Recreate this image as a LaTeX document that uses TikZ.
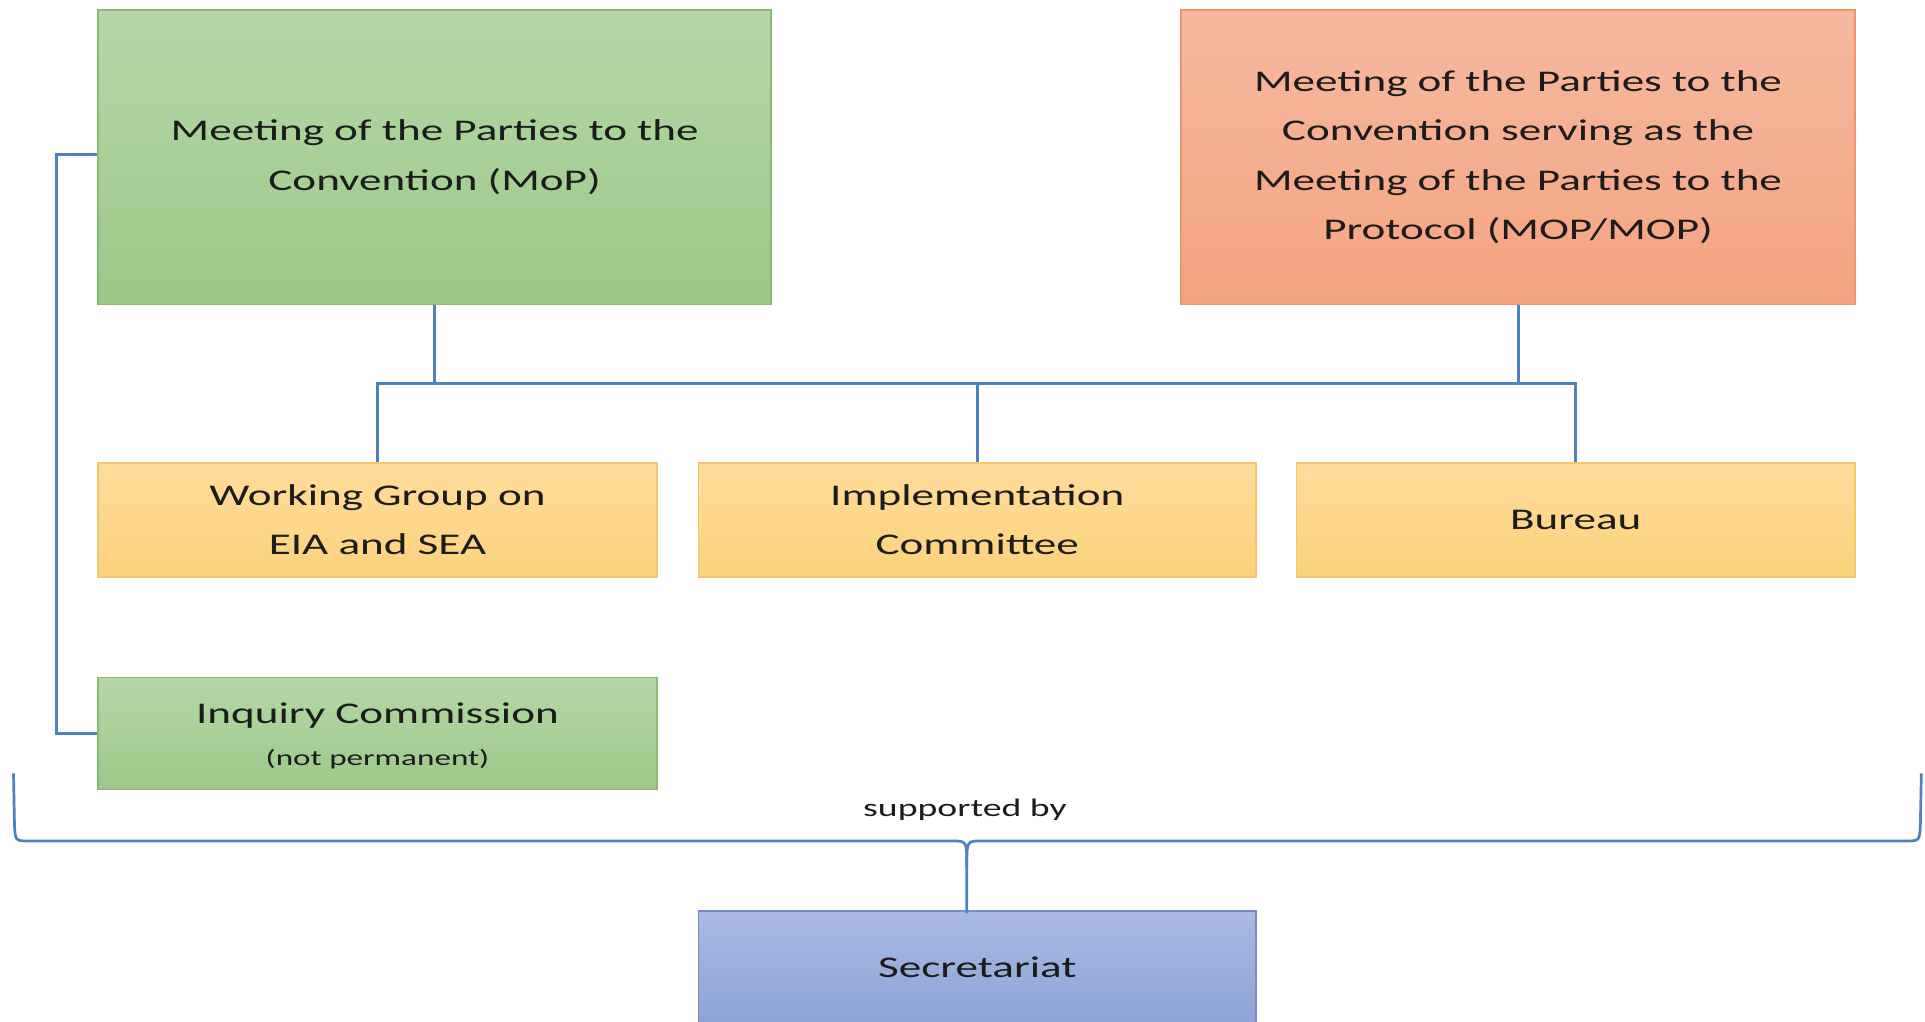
\documentclass[tikz,border=0pt]{standalone}
\usepackage{fontspec}
\setmainfont{Carlito}
\usepackage{graphicx}
\definecolor{conncol}{RGB}{79,129,189}
\definecolor{txtcol}{RGB}{28,28,28}
\definecolor{gtop}{RGB}{182,215,167}
\definecolor{gbot}{RGB}{157,200,137}
\definecolor{gbrd}{RGB}{140,184,118}
\definecolor{otop}{RGB}{246,185,160}
\definecolor{obot}{RGB}{244,163,128}
\definecolor{obrd}{RGB}{236,150,112}
\definecolor{ytop}{RGB}{254,220,155}
\definecolor{ybot}{RGB}{252,210,124}
\definecolor{ybrd}{RGB}{242,200,105}
\definecolor{btop}{RGB}{170,186,225}
\definecolor{bbot}{RGB}{140,163,215}
\definecolor{bbrd}{RGB}{118,140,198}
\newcommand\wx[1]{\scalebox{1.5}[1]{#1}}
\tikzset{
  box/.style={rectangle, inner sep=0pt, align=center, text=txtcol, line width=1.2pt,
    font=\fontsize{24.5}{40}\selectfont},
  gbox/.style={box, draw=gbrd, top color=gtop, bottom color=gbot},
  obox/.style={box, draw=obrd, top color=otop, bottom color=obot},
  ybox/.style={box, draw=ybrd, top color=ytop, bottom color=ybot},
  bbox/.style={box, draw=bbrd, top color=btop, bottom color=bbot},
  conn/.style={draw=conncol, line width=2.4pt},
  bracestyle/.style={draw=conncol, line width=2.2pt, line join=round},
  lbl/.style={text=txtcol, inner sep=0pt}
}
\begin{document}
\begin{tikzpicture}[x=1pt,y=-1pt]
\clip (0,0) rectangle (1568,832);
\fill[white] (0,0) rectangle (1568,832);

% top boxes
\node[gbox, minimum width=548pt, minimum height=240pt] (mop) at (354,128)
  {\wx{Meeting of the Parties to the}\\\wx{Convention (MoP)}};
\node[obox, minimum width=549pt, minimum height=240pt] (mopp) at (1236.5,128)
  {\wx{Meeting of the Parties to the}\\\wx{Convention serving as the}\\\wx{Meeting of the Parties to the}\\\wx{Protocol (MOP/MOP)}};

% middle boxes
\node[ybox, minimum width=455pt, minimum height=93pt] (wg) at (307.5,423.5)
  {\wx{Working Group on}\\\wx{EIA and SEA}};
\node[ybox, minimum width=454pt, minimum height=93pt] (imp) at (796,423.5)
  {\wx{Implementation}\\\wx{Committee}};
\node[ybox, minimum width=455pt, minimum height=93pt] (bur) at (1283.5,423.5)
  {\wx{Bureau}};

% inquiry commission
\node[gbox, minimum width=455pt, minimum height=91pt] (ic) at (307.5,597.5) {};
\node[lbl, font=\fontsize{24.5}{30}\selectfont] (ict) at (307.5,583) {\wx{Inquiry Commission}};
\node[lbl, font=\fontsize{18}{22}\selectfont] (icn) at (307.5,618) {\wx{(not permanent)}};

% secretariat
\node[bbox, minimum width=454pt, minimum height=94pt] (sec) at (796,789) {};
\node[lbl, font=\fontsize{24.5}{30}\selectfont] (sect) at (796,788) {\wx{Secretariat}};

% bus connectors
\coordinate (bus) at (307,312);
\draw[conn] (wg.north) -- (wg.north |- bus) -- (bur.north |- bus) -- (bur.north);
\draw[conn] (mop.south) -- (mop.south |- bus);
\draw[conn] (mopp.south) -- (mopp.south |- bus);
\draw[conn] (imp.north) -- (imp.north |- bus);

% left bracket from MoP to inquiry commission
\coordinate (lk) at (46,126);
\draw[conn] (mop.west |- lk) -- (lk) |- (ic.west);

% brace
\coordinate (bl) at (11,630);
\coordinate (br) at (1565,630);
\coordinate (tip) at (787.5,744);
\draw[bracestyle] (bl) -- (11.8,672) .. controls (12.5,685) .. (24,685) -- (776,685)
   .. controls (787.5,685) .. (787.5,706) -- (tip);
\draw[bracestyle] (br) -- (1564.2,672) .. controls (1563.5,685) .. (1552,685) -- (799,685)
   .. controls (787.5,685) .. (787.5,706);

\node[lbl, font=\fontsize{20.5}{24}\selectfont] (sup) at (786,660) {\wx{supported by}};
\end{tikzpicture}
\end{document}
